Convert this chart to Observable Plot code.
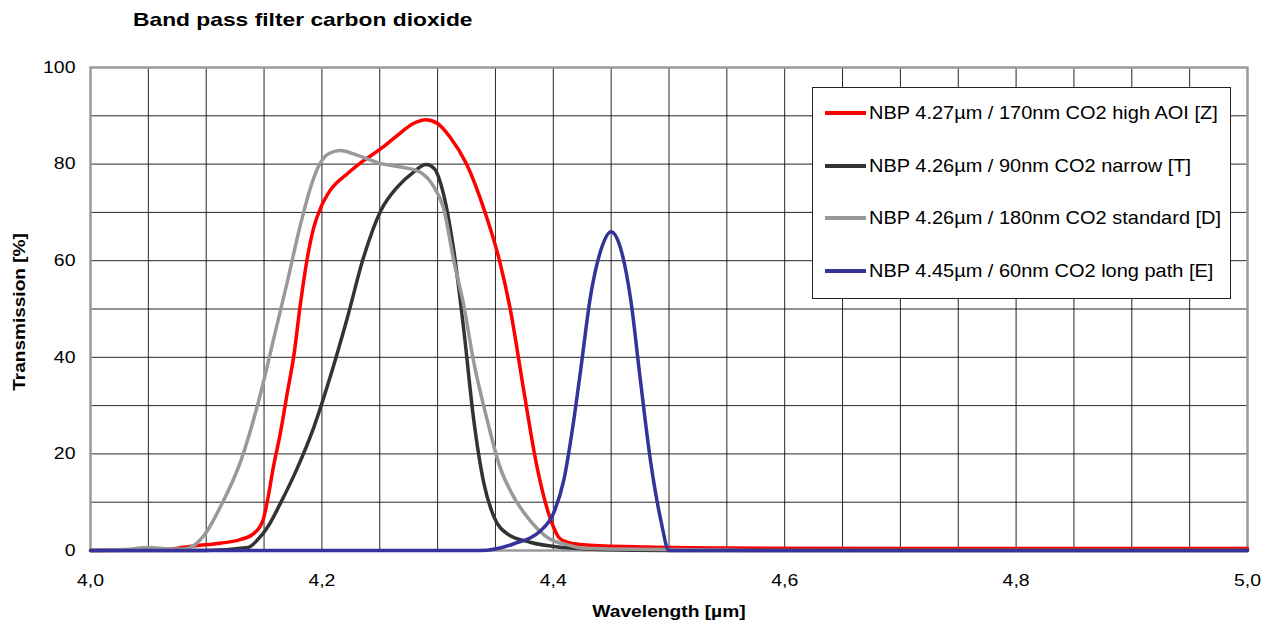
<!DOCTYPE html>
<html>
<head>
<meta charset="utf-8">
<script src="https://cdn.jsdelivr.net/npm/d3@7"></script>
<script src="https://cdn.jsdelivr.net/npm/@observablehq/plot@0.6"></script>
<style>
  body { margin: 0; background: #fff; font-family: "Liberation Sans", Arial, sans-serif; }
  #wrap { position: relative; width: 1274px; height: 627px; overflow: hidden; }
  #title { position: absolute; left: 133px; top: 9px; font-weight: bold; font-size: 19px; white-space: nowrap; transform-origin: 0 50%; transform: scaleX(1.2); }
  #xlabel { position: absolute; left: 669px; top: 603px; font-weight: bold; font-size: 16px; white-space: nowrap; transform: translateX(-50%) scaleX(1.2); }
  #ylabel { position: absolute; left: 20px; top: 312px; transform: translate(-50%, -50%) rotate(-90deg) scaleX(1.19); font-weight: bold; font-size: 16px; white-space: nowrap; }
  #legend { position: absolute; left: 812px; top: 87px; width: 417px; height: 210px; border: 1px solid #222; background: #fff; }
  .row { position: absolute; left: 12px; height: 22px; display: flex; align-items: center; white-space: nowrap; font-size: 18.5px; }
  .swatch { width: 41px; height: 4px; margin-right: 3px; flex: none; }
  .row span { display: inline-block; transform-origin: 0 50%; transform: scaleX(1.08); }
</style>
</head>
<body>
<div id="wrap">
  <div id="chart"></div>
  <div id="title"></div>
  <div id="ylabel"></div>
  <div id="xlabel"></div>
  <div id="legend"></div>
</div>
<script>
const titleText = "Band pass filter carbon dioxide";
const xLabel = "Wavelength [µm]";
const yLabel = "Transmission [%]";

const seriesNames = [
  "NBP 4.27µm / 170nm CO2 high AOI [Z]",
  "NBP 4.26µm / 90nm CO2 narrow [T]",
  "NBP 4.26µm / 180nm CO2 standard [D]",
  "NBP 4.45µm / 60nm CO2 long path [E]"
];
const seriesColors = ["#ff0000", "#333333", "#999999", "#333399"];

const xTicks = [4.0, 4.2, 4.4, 4.6, 4.8, 5.0];
const yTicks = [0, 20, 40, 60, 80, 100];
const xGrid = [4.0,4.05,4.1,4.15,4.2,4.25,4.3,4.35,4.4,4.45,4.5,4.55,4.6,4.65,4.7,4.75,4.8,4.85,4.9,4.95,5.0];
const yGrid = [0,10,20,30,40,50,60,70,80,90,100];

// Z: high AOI (red)
const zX = [4.00,4.06,4.091,4.112,4.130,4.141,4.149,4.153,4.158,4.164,4.170,4.176,4.181,4.187,4.193,4.199,4.207,4.222,4.236,4.251,4.265,4.279,4.290,4.300,4.311,4.325,4.341,4.3535,4.363,4.374,4.386,4.398,4.406,4.418,4.432,4.481,4.55,4.70,4.85,5.00];
const zY = [0.0,0.1,1.0,1.5,2.3,3.5,6.2,10.4,17.2,24.2,32.5,40.8,50.3,60.0,66.9,71.0,74.5,78.0,80.7,83.2,85.9,88.4,89.2,88.4,85.5,80.0,70.0,60.0,49.7,33.8,17.2,6.2,2.4,1.4,1.1,0.7,0.5,0.4,0.4,0.4];

// T: narrow (dark)
const tX = [4.00,4.10,4.136,4.144,4.153,4.164,4.179,4.193,4.207,4.222,4.236,4.251,4.265,4.279,4.290,4.297,4.305,4.314,4.323,4.331,4.340,4.349,4.360,4.380,4.409,4.44,4.50,5.00];
const tY = [0.0,0.0,0.6,2.1,4.8,9.7,17.2,25.5,35.8,48.2,60.7,70.4,75.2,78.3,79.9,79.1,73.9,62.1,44.9,27.5,13.9,6.8,3.5,1.7,0.6,0.2,0.0,0.0];

// D: standard (gray)
const dX = [4.00,4.03,4.05,4.07,4.08,4.089,4.101,4.112,4.130,4.147,4.158,4.170,4.181,4.190,4.197,4.207,4.216,4.231,4.251,4.271,4.285,4.297,4.305,4.314,4.323,4.331,4.343,4.354,4.366,4.380,4.395,4.415,4.424,4.45,4.50,4.55,4.57,5.00];
const dY = [0.0,0.2,0.6,0.3,0.3,1.0,4.1,8.9,18.6,32.5,43.5,55.5,67.0,75.0,79.5,82.3,82.8,81.8,80.1,79.3,78.3,75.2,71.0,60.0,50.3,39.3,26.9,17.2,11.0,6.2,2.7,1.0,0.5,0.3,0.2,0.1,0.0,0.0];

// E: long path (blue)
const eX = [4.00,4.30,4.337,4.366,4.389,4.400,4.409,4.418,4.424,4.432,4.441,4.450,4.458,4.467,4.475,4.484,4.493,4.500,4.55,5.00];
const eY = [0.0,0.0,0.0,1.4,4.1,7.6,14.5,27.5,38.0,52.4,62.1,66.0,62.7,51.8,35.8,18.6,6.2,0.0,0.0,0.0];

const seriesX = [zX, tX, dX, eX];
const seriesY = [zY, tY, dY, eY];

const tables = seriesNames.map((name, i) =>
  seriesX[i].map((w, j) => ({series: name, w, t: seriesY[i][j]}))
);

const fmt = d => d.toFixed(1).replace(".", ",");

const chart = Plot.plot({
  width: 1274,
  height: 627,
  marginLeft: 90,
  marginRight: 27,
  marginTop: 67,
  marginBottom: 77,
  x: {domain: [4, 5]},
  y: {domain: [0, 100]},
  style: {fontFamily: "'Liberation Sans', Arial, sans-serif", fontSize: "16.5px", color: "#000", background: "#fff"},
  marks: [
    Plot.gridX(xGrid, {stroke: "#000", strokeOpacity: 0.85, strokeWidth: 1}),
    Plot.gridY(yGrid, {stroke: "#000", strokeOpacity: 0.85, strokeWidth: 1}),
    Plot.frame({stroke: "#9a9a9a", strokeWidth: 2.5}),
    Plot.axisX(xTicks, {tickSize: 0, tickPadding: 24, tickFormat: fmt, label: null}),
    Plot.axisY(yTicks, {tickSize: 0, tickPadding: 15, label: null}),
    ...tables.map((tbl, i) => Plot.line(tbl, {x: "w", y: "t", stroke: seriesColors[i], strokeWidth: 3.5, curve: "monotone-x"}))
  ]
});
document.getElementById("chart").appendChild(chart);

// widen tick labels horizontally to match the reference typeface
chart.querySelectorAll('g[aria-label="x-axis tick label"] text, g[aria-label="y-axis tick label"] text').forEach(t => {
  const tr = t.getAttribute("transform");
  if (tr) {
    t.setAttribute("transform", tr + " scale(1.18,1)");
  } else {
    const x = +t.getAttribute("x") || 0;
    t.setAttribute("transform", `translate(${x},0) scale(1.18,1) translate(${-x},0)`);
  }
});

document.getElementById("title").textContent = titleText;
document.getElementById("xlabel").textContent = xLabel;
document.getElementById("ylabel").textContent = yLabel;

const legend = document.getElementById("legend");
seriesNames.forEach((name, i) => {
  const row = document.createElement("div");
  row.className = "row";
  row.style.top = (14 + i * 52.7) + "px";
  const sw = document.createElement("div");
  sw.className = "swatch";
  sw.style.background = seriesColors[i];
  const tx = document.createElement("span");
  tx.textContent = name;
  row.appendChild(sw);
  row.appendChild(tx);
  legend.appendChild(row);
});
</script>
</body>
</html>
